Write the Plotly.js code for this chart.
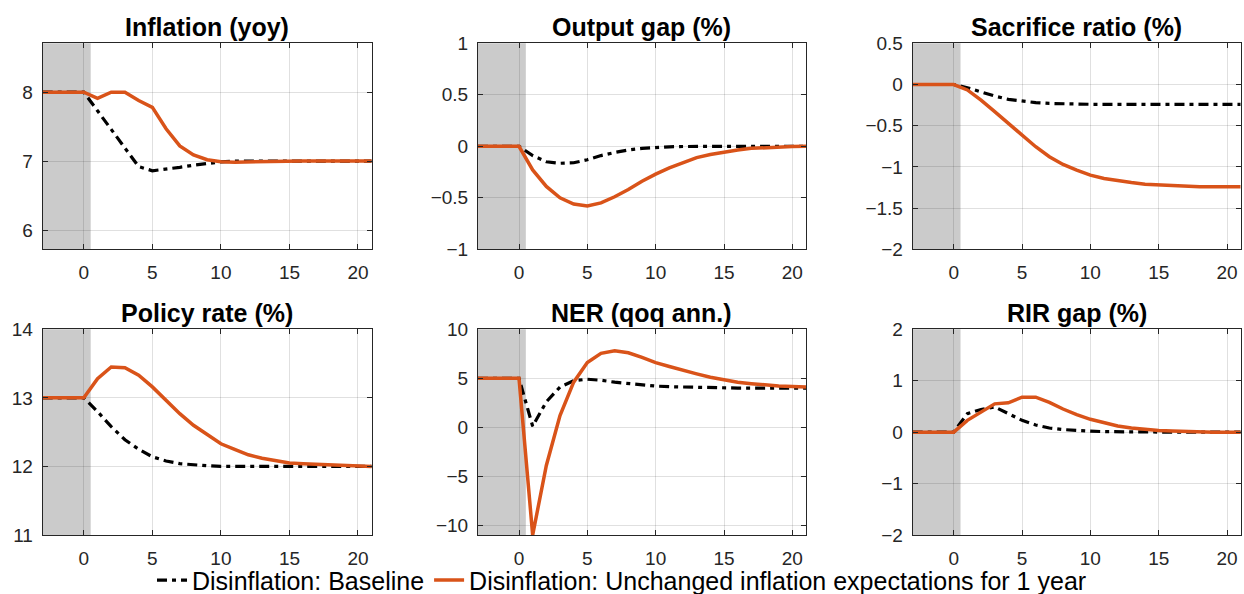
<!DOCTYPE html>
<html>
<head>
<meta charset="utf-8">
<script src="https://cdn.plot.ly/plotly-3.0.1.min.js"></script>
<style>
html,body{margin:0;padding:0;background:#fff;}
#chart{width:1244px;height:594px;}
</style>
</head>
<body>
<div id="chart"></div>
<script>
// ---- Data (quarters from -3 to 21) ----
var quarters = [-3,-2,-1,0,1,2,3,4,5,6,7,8,9,10,11,12,13,14,15,16,17,18,19,20,21];

var panelTitles = ["Inflation (yoy)", "Output gap (%)", "Sacrifice ratio (%)",
                   "Policy rate (%)", "NER (qoq ann.)", "RIR gap (%)"];

var seriesNames = ["Disinflation: Baseline",
                   "Disinflation: Unchanged inflation expectations for 1 year"];

// Inflation (yoy)
var inflBase  = [8,8,8,8,7.73,7.46,7.19,6.92,6.86,6.88,6.91,6.94,6.97,6.99,7,7,7,7,7,7,7,7,7,7,7];
var inflAlt   = [8,8,8,8,7.91,8,8,7.88,7.78,7.47,7.22,7.09,7.02,6.99,6.985,6.99,6.99,6.995,7,7,7,7,7,7,7];

// Output gap (%)
var gapBase   = [0,0,0,0,-0.09,-0.15,-0.165,-0.16,-0.13,-0.09,-0.06,-0.035,-0.02,-0.01,-0.005,-0.002,0,0,0,0,0,0,0,0,0];
var gapAlt    = [0,0,0,0,-0.23,-0.39,-0.5,-0.56,-0.58,-0.55,-0.49,-0.42,-0.34,-0.27,-0.21,-0.16,-0.11,-0.08,-0.055,-0.035,-0.02,-0.012,-0.006,-0.003,0];

// Sacrifice ratio (%)
var sacBase   = [0,0,0,0,-0.04,-0.09,-0.14,-0.18,-0.2,-0.22,-0.23,-0.235,-0.24,-0.24,-0.24,-0.24,-0.24,-0.24,-0.24,-0.24,-0.24,-0.24,-0.24,-0.24,-0.24];
var sacAlt    = [0,0,0,0,-0.066,-0.19,-0.33,-0.47,-0.62,-0.755,-0.876,-0.97,-1.04,-1.1,-1.14,-1.17,-1.19,-1.21,-1.22,-1.23,-1.235,-1.24,-1.24,-1.24,-1.24];

// Policy rate (%)
var polBase   = [13,13,13,13,12.8,12.58,12.39,12.25,12.14,12.08,12.04,12.02,12.01,12,12,12,12,12,12,12,12,12,12,12,12];
var polAlt    = [13,13,13,13,13.28,13.45,13.44,13.33,13.16,12.97,12.77,12.6,12.46,12.33,12.25,12.17,12.12,12.08,12.05,12.04,12.03,12.02,12.01,12.01,12];

// NER (qoq ann.)
var nerBase   = [5,5,5,5,0.1,2.6,4.1,4.75,4.9,4.8,4.6,4.45,4.3,4.2,4.14,4.1,4.06,4.03,4.01,4,4,4,4,4,4];
var nerAlt    = [5,5,5,5,-11,-3.9,1.2,4.6,6.6,7.55,7.8,7.6,7.13,6.6,6.2,5.8,5.45,5.1,4.85,4.6,4.45,4.3,4.2,4.15,4.1];

// RIR gap (%)
var rirBase   = [0,0,0,0,0.36,0.44,0.49,0.36,0.23,0.14,0.08,0.05,0.03,0.02,0.01,0.005,0,0,0,0,0,0,0,0,0];
var rirAlt    = [0,0,0,0,0.23,0.39,0.55,0.57,0.68,0.68,0.58,0.45,0.34,0.25,0.18,0.12,0.08,0.05,0.03,0.02,0.01,0.005,0,0,0];

var baseSeries = [inflBase, gapBase, sacBase, polBase, nerBase, rirBase];
var altSeries  = [inflAlt, gapAlt, sacAlt, polAlt, nerAlt, rirAlt];

var yRanges = [[5.72,8.71],[-1,1],[-2,0.5],[11,14],[-11,10],[-2,2]];
var yDticks = [1,0.5,0.5,1,5,1];
var xRange = [-3,21];
var xTicks = [0,5,10,15,20];
var shadeEnd = 0.5;

// ---- Layout geometry ----
var W = 1244, H = 594;
var colX = [[42.7,371.7],[478,806],[912.7,1240.7]];
var rowY = [[43.3,249.3],[329.3,535]];

var orange = "#D95319";
var axisCol = "#262626";
var gridCol = "rgba(38,38,38,0.14)";

var traces = [];
var layout = {
  width: W, height: H,
  margin: {l:0, r:0, t:0, b:0, autoexpand: false},
  paper_bgcolor: "#ffffff",
  plot_bgcolor: "rgba(0,0,0,0)",
  font: {family: "Liberation Sans, Arial, sans-serif", color: axisCol},
  showlegend: true,
  legend: {
    orientation: "h",
    x: 0.5, xanchor: "center",
    y: 0.023, yanchor: "middle",
    font: {size: 25, color: "#000000"},
    bgcolor: "rgba(0,0,0,0)",
    traceorder: "normal"
  },
  shapes: [],
  annotations: []
};

for (var i = 0; i < 6; i++) {
  var r = Math.floor(i / 3), c = i % 3;
  var xa = "xaxis" + (i === 0 ? "" : (i + 1));
  var ya = "yaxis" + (i === 0 ? "" : (i + 1));
  var xr = "x" + (i === 0 ? "" : (i + 1));
  var yr = "y" + (i === 0 ? "" : (i + 1));

  var dx = [colX[c][0] / W, colX[c][1] / W];
  var dy = [(H - rowY[r][1]) / H, (H - rowY[r][0]) / H];

  layout[xa] = {
    domain: dx, range: xRange, anchor: yr,
    tickvals: xTicks, ticks: "inside", ticklen: 5, tickcolor: axisCol,
    showline: true, linecolor: axisCol, linewidth: 1, mirror: "ticks",
    showgrid: true, gridcolor: gridCol, gridwidth: 1, zeroline: false,
    tickfont: {size: 19, color: axisCol}, ticklabelstandoff: 6, automargin: false
  };
  layout[ya] = {
    domain: dy, range: yRanges[i], anchor: xr,
    dtick: yDticks[i], tick0: 0, ticks: "inside", ticklen: 5, tickcolor: axisCol,
    showline: true, linecolor: axisCol, linewidth: 1, mirror: "ticks",
    showgrid: true, gridcolor: gridCol, gridwidth: 1, zeroline: false,
    tickfont: {size: 19, color: axisCol}, ticklabelstandoff: 5, automargin: false
  };

  layout.shapes.push({
    type: "rect", xref: xr, yref: yr + " domain",
    x0: xRange[0], x1: shadeEnd, y0: 0, y1: 1,
    fillcolor: "#CBCBCB", line: {width: 0}, layer: "below"
  });

  layout.annotations.push({
    text: "<b>" + panelTitles[i] + "</b>",
    xref: "paper", yref: "paper",
    x: (dx[0] + dx[1]) / 2, xanchor: "center",
    y: dy[1], yanchor: "bottom", yshift: 0,
    showarrow: false,
    font: {size: 25, color: "#000000"}
  });

  traces.push({
    x: quarters, y: baseSeries[i], type: "scatter", mode: "lines",
    xaxis: xr, yaxis: yr,
    name: seriesNames[0], legendgroup: "a", showlegend: i === 0,
    line: {color: "#000000", width: 3.2, dash: "10px,5px,4px,5px"},
    hoverinfo: "skip", cliponaxis: true
  });
  traces.push({
    x: quarters, y: altSeries[i], type: "scatter", mode: "lines",
    xaxis: xr, yaxis: yr,
    name: seriesNames[1], legendgroup: "b", showlegend: i === 0,
    line: {color: orange, width: 3.5},
    hoverinfo: "skip", cliponaxis: true
  });
}

Plotly.newPlot("chart", traces, layout, {staticPlot: true, displayModeBar: false});
</script>
</body>
</html>
